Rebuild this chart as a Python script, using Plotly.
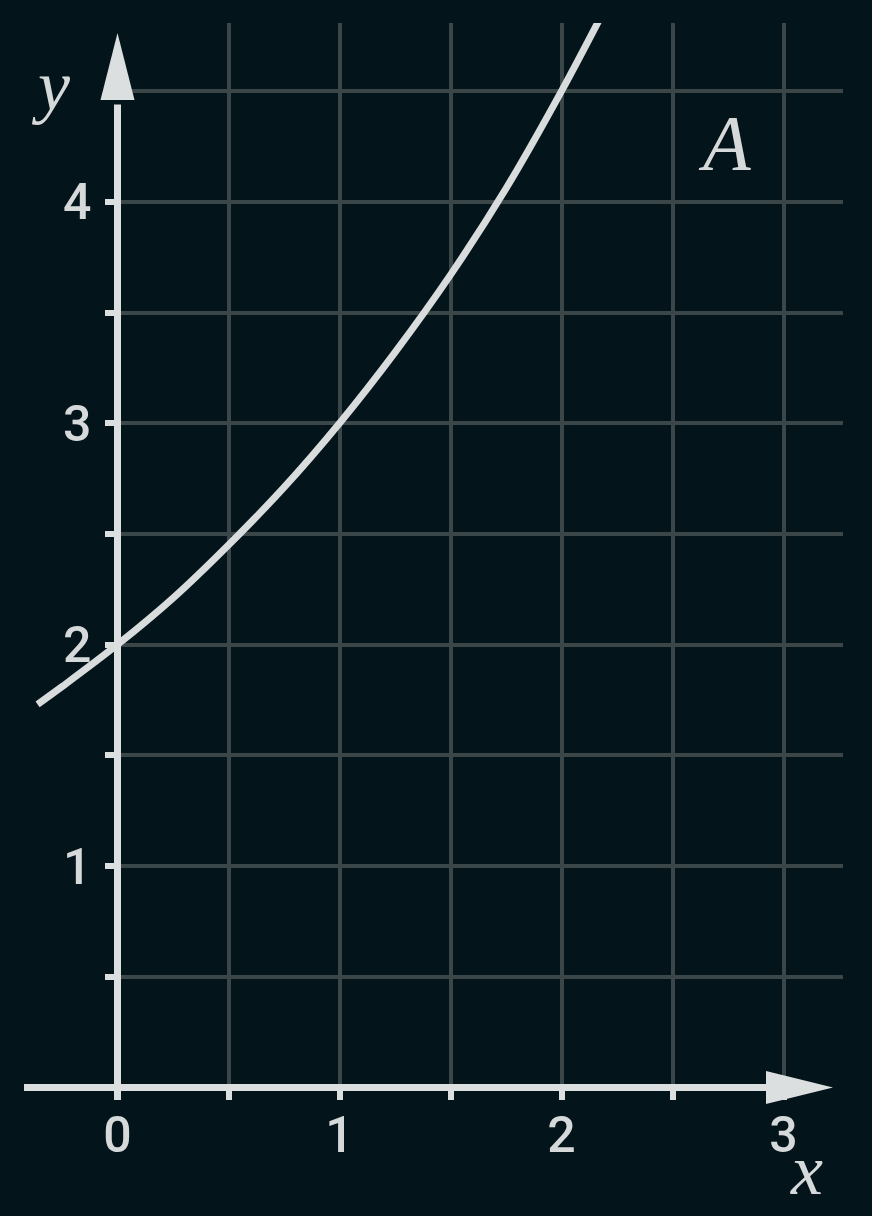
import plotly.graph_objects as go

W, H = 872, 1216

# curve y(x)
curve_x = [-0.36, -0.25, 0.0, 0.25, 0.5, 0.75, 1.0, 1.25, 1.5, 1.75, 2.0, 2.2]
curve_y = [1.73, 1.81, 2.0, 2.21, 2.45, 2.71, 3.0, 3.32, 3.67, 4.06, 4.5, 4.88]

x_ticks = [0, 0.5, 1, 1.5, 2, 2.5, 3]
x_tick_text = ["0", "", "1", "", "2", "", "3"]
y_ticks = [0.5, 1, 1.5, 2, 2.5, 3, 3.5, 4, 4.5]
y_tick_text = ["", "1", "", "2", "", "3", "", "4", ""]

BG = "#03151a"
GRID = "#3a4647"
INK = "#dcdfe0"
LABEL = "#d6d9da"

# pixel geometry of the page
X0_PX, X_UNIT = 117.5, 222.0
Y0_PX, Y_UNIT = 1087.4, 221.4
TOP_PX, GRID_RIGHT_PX = 23, 842.7


def px_to_x(px):
    return (px - X0_PX) / X_UNIT


def px_to_y(py):
    return (Y0_PX - py) / Y_UNIT


fig = go.Figure()

# empty trace so the grid subplot (x, y) gets drawn
fig.add_trace(go.Scatter(x=[], y=[], xaxis="x", yaxis="y",
                         showlegend=False, hoverinfo="skip"))
fig.add_trace(go.Scatter(
    x=curve_x, y=curve_y, xaxis="x2", yaxis="y2",
    mode="lines", line=dict(color="#d9dcdc", width=7, shape="spline"),
    showlegend=False, hoverinfo="skip",
))

# axis lines with arrow heads
ax_left = px_to_x(24)
ax_x_base, ax_x_tip, ax_x_half = px_to_x(766), px_to_x(833), 16.5 / Y_UNIT
ax_y_base, ax_y_tip, ax_y_half = px_to_y(100), px_to_y(33), 17 / X_UNIT
shape_ref = dict(xref="x2", yref="y2", layer="above")
shapes = [
    dict(type="line", x0=ax_left, x1=ax_x_base + 0.02, y0=0, y1=0,
         line=dict(color=INK, width=7), **shape_ref),
    dict(type="line", x0=0, x1=0, y0=px_to_y(1100), y1=ax_y_base - 0.02,
         line=dict(color=INK, width=7), **shape_ref),
    dict(type="path",
         path=f"M {ax_x_base},{-ax_x_half} L {ax_x_tip},0 L {ax_x_base},{ax_x_half} Z",
         fillcolor=INK, line=dict(width=0), **shape_ref),
    dict(type="path",
         path=f"M {-ax_y_half},{ax_y_base} L 0,{ax_y_tip} L {ax_y_half},{ax_y_base} Z",
         fillcolor=INK, line=dict(width=0), **shape_ref),
]

serif = "Liberation Serif, DejaVu Serif, serif"
annotations = [
    dict(text="<i>y</i>", x=50 / W, y=1 - 86 / H, font=dict(size=72, family=serif, color=LABEL)),
    dict(text="<i>x</i>", x=806 / W, y=1 - 1170 / H, font=dict(size=72, family=serif, color=LABEL)),
    dict(text="<i>A</i>", x=724 / W, y=1 - 142 / H, font=dict(size=78, family=serif, color=LABEL)),
]
for a in annotations:
    a.update(xref="paper", yref="paper", showarrow=False, xanchor="center", yanchor="middle")

tick_font = dict(family="Roboto, sans-serif", size=50, color=LABEL, weight=500)
grid_axis = dict(
    showgrid=True, gridcolor=GRID, gridwidth=3.5,
    zeroline=False, showline=False, automargin=False,
    ticks="outside", ticklen=12, tickwidth=6, tickcolor=INK,
    tickfont=tick_font, fixedrange=True,
)

fig.update_layout(
    width=W, height=H,
    margin=dict(l=0, r=0, t=0, b=0, autoexpand=False),
    paper_bgcolor=BG, plot_bgcolor="rgba(0,0,0,0)",
    xaxis=dict(domain=[X0_PX / W, GRID_RIGHT_PX / W], range=[0, px_to_x(GRID_RIGHT_PX)],
               tickmode="array", tickvals=x_ticks, ticktext=x_tick_text,
               anchor="y", ticklabelstandoff=-8, **grid_axis),
    yaxis=dict(domain=[1 - Y0_PX / H, 1 - TOP_PX / H], range=[0, px_to_y(TOP_PX)],
               tickmode="array", tickvals=y_ticks, ticktext=y_tick_text,
               anchor="x", ticklabelstandoff=3, **grid_axis),
    xaxis2=dict(domain=[0, 1], range=[px_to_x(0), px_to_x(W)], visible=False,
                anchor="y2", fixedrange=True, automargin=False),
    yaxis2=dict(domain=[0, 1 - TOP_PX / H], range=[px_to_y(H), px_to_y(TOP_PX)],
                visible=False, anchor="x2", fixedrange=True, automargin=False),
    shapes=shapes,
    annotations=annotations,
)

fig.write_html("out.html", config={"displayModeBar": False},
               post_script="document.body.style.margin='0';")
